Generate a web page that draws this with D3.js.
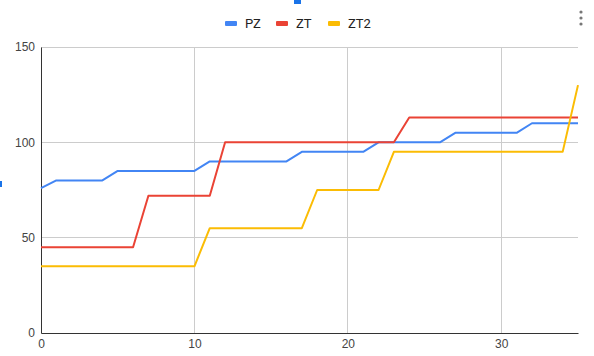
<!DOCTYPE html>
<html><head><meta charset="utf-8">
<script src="https://cdn.jsdelivr.net/npm/d3@7"></script>
<style>body{margin:0;background:#fff}svg{display:block;font-family:Roboto,Arial,sans-serif}</style>
</head><body>
<svg id="c" width="594" height="356"></svg>
<script>
const xs = d3.range(0, 36);
const seriesNames = ["PZ", "ZT", "ZT2"];
const pz  = [76,80,80,80,80,85,85,85,85,85,85,90,90,90,90,90,90,95,95,95,95,95,100,100,100,100,100,105,105,105,105,105,110,110,110,110];
const zt  = [45,45,45,45,45,45,45,72,72,72,72,72,100,100,100,100,100,100,100,100,100,100,100,100,113,113,113,113,113,113,113,113,113,113,113,113];
const zt2 = [35,35,35,35,35,35,35,35,35,35,35,55,55,55,55,55,55,55,75,75,75,75,75,95,95,95,95,95,95,95,95,95,95,95,95,130];
const colors = ["#4285F4", "#EA4335", "#FBBC04"];
const yTicks = [0, 50, 100, 150];
const xTicks = [0, 10, 20, 30];

const svg = d3.select("#c");
const x = d3.scaleLinear().domain([0, 35]).range([41, 578]);
const y = d3.scaleLinear().domain([0, 150]).range([333, 47]);

// grid
svg.append("g").selectAll("line").data(yTicks.filter(d => d > 0)).join("line")
  .attr("x1", 41).attr("x2", 578).attr("y1", d => y(d)).attr("y2", d => y(d))
  .attr("stroke", "#ccc").attr("stroke-width", 1).attr("shape-rendering", "crispEdges");
svg.append("g").selectAll("line").data(xTicks.filter(d => d > 0)).join("line")
  .attr("y1", 47).attr("y2", 333).attr("x1", d => x(d)).attr("x2", d => x(d))
  .attr("stroke", "#ccc").attr("stroke-width", 1).attr("shape-rendering", "crispEdges");

// axes
const yAxis = svg.append("g").attr("transform", "translate(41,0)")
  .call(d3.axisLeft(y).tickValues(yTicks).tickSize(0).tickPadding(6));
yAxis.select(".domain").attr("stroke", "#333");
yAxis.selectAll("text").attr("fill", "#444").attr("font-size", 12);
const xAxis = svg.append("g").attr("transform", "translate(0,333)")
  .call(d3.axisBottom(x).tickValues(xTicks).tickSize(0).tickPadding(6));
xAxis.select(".domain").attr("stroke", "#333");
xAxis.selectAll("text").attr("fill", "#444").attr("font-size", 12);

// lines
const data = [pz, zt, zt2];
const line = d3.line().x((d, i) => x(xs[i])).y(d => y(d));
svg.append("g").selectAll("path").data(data).join("path")
  .attr("d", d => line(d)).attr("fill", "none")
  .attr("stroke", (d, i) => colors[i]).attr("stroke-width", 2).attr("stroke-linejoin", "round");

// legend
const legX = [225, 276, 328];
const leg = svg.append("g").selectAll("g").data(seriesNames).join("g")
  .attr("transform", (d, i) => `translate(${legX[i]},0)`);
leg.append("rect").attr("x", 0).attr("y", 21).attr("width", 12).attr("height", 5).attr("rx", 1)
  .attr("fill", (d, i) => colors[i]);
leg.append("text").attr("x", 20).attr("y", 28).text(d => d)
  .attr("font-size", 13).attr("fill", "#222");

// UI artifacts
svg.append("rect").attr("x", 294).attr("y", 0).attr("width", 7).attr("height", 4).attr("fill", "#1a73e8");
svg.append("rect").attr("x", 0).attr("y", 181).attr("width", 2).attr("height", 6).attr("fill", "#1a73e8");
svg.append("g").selectAll("circle").data([12, 18, 24]).join("circle")
  .attr("cx", 581).attr("cy", d => d).attr("r", 1.6).attr("fill", "#777");
</script>
</body></html>
